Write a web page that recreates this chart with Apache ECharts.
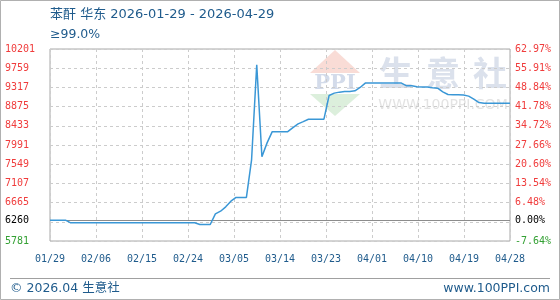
<!DOCTYPE html>
<html>
<head>
<meta charset="utf-8">
<script src="https://cdn.jsdelivr.net/npm/echarts@6/dist/echarts.min.js"></script>
<style>
html,body{margin:0;padding:0;background:#fff;}
#c{width:560px;height:300px;}
</style>
</head>
<body>
<div id="c"></div>
<script>
// ---- data ----
const xLabels = ['01/29','02/06','02/15','02/24','03/05','03/14','03/23','04/01','04/10','04/19','04/28'];
const leftLabels = ['5781','6260','6665','7107','7549','7991','8433','8875','9317','9759','10201'];
const rightLabels = ['-7.64%','0.00%','6.48%','13.54%','20.60%','27.66%','34.72%','41.78%','48.84%','55.91%','62.97%'];
const baseValue = 6260;
const prices = [
  6260,6260,6260,6260,
  6200,6200,6200,6200,6200,6200,6200,6200,6200,6200,6200,6200,6200,6200,6200,6200,6200,6200,6200,6200,6200,6200,6200,6200,6200,
  6160,6160,6160,
  6405,6467,6567,6698,
  6784,6784,6784,
  7650,9840,7720,8040,
  8298,8298,8298,8298,
  8391,8476,8529,
  8585,8585,8585,8585,
  9130,9185,9208,9222,9222,9238,9315,
  9416,9416,9416,9416,9416,9416,9416,9416,
  9354,9354,9330,9324,9324,9307,9300,9215,9153,9146,9146,9140,9116,9047,8968,
  8954,8954,8954,8954,8954,8954
];

const yMin = 5781, yMax = 10201, yStep = 442;
const lastIdx = prices.length - 1;
const xStep = lastIdx / (xLabels.length - 1);

const chart = echarts.init(document.getElementById('c'), null, {renderer: 'canvas'});
const mono = '"DejaVu Sans Mono", monospace';
const sans = '"DejaVu Sans", "Noto Sans CJK SC", sans-serif';
const blueText = '#1f5b8c';

function richKey(i){ return i === 0 ? 'g' : (i === 1 ? 'k' : 'r'); }
const richStyles = {
  g: {color: '#33a033', fontFamily: mono, fontSize: 10},
  k: {color: '#000', fontFamily: mono, fontSize: 10, padding: [0,0,3,0]},
  r: {color: '#f03c3c', fontFamily: mono, fontSize: 10}
};

const wmFont = 'bold 34px "Noto Sans CJK SC", sans-serif';
const wmColor = '#dbe1ec';

const option = {
  backgroundColor: '#fff',
  animation: false,
  grid: {left: 50, right: 50, top: 49, bottom: 59, show: true, borderColor: '#a8a8a8', borderWidth: 1, backgroundColor: 'transparent'},
  xAxis: {
    type: 'value', min: 0, max: lastIdx, interval: xStep,
    axisLine: {show: false}, axisTick: {show: false},
    splitLine: {show: true, lineStyle: {color: '#cccccc', type: [3,3], width: 1}},
    axisLabel: {
      margin: 13, color: blueText, fontFamily: mono, fontSize: 10,
      showMinLabel: true, showMaxLabel: true,
      formatter: v => xLabels[Math.round(v / xStep)] || ''
    }
  },
  yAxis: [{
    type: 'value', min: yMin, max: yMax, interval: yStep, position: 'left',
    axisLine: {show: false}, axisTick: {show: false},
    splitLine: {show: true, lineStyle: {color: '#cccccc', type: [3,3], width: 1}},
    axisLabel: {
      align: 'left', margin: 45, showMinLabel: true, showMaxLabel: true,
      formatter: v => { const i = Math.round((v - yMin) / yStep); return '{' + richKey(i) + '|' + (leftLabels[i] || '') + '}'; },
      rich: richStyles
    }
  }, {
    type: 'value', min: 0, max: rightLabels.length - 1, interval: 1, position: 'right',
    axisLine: {show: false}, axisTick: {show: false}, splitLine: {show: false},
    axisLabel: {
      align: 'left', margin: 5, showMinLabel: true, showMaxLabel: true,
      formatter: v => { const i = Math.round(v); return '{' + richKey(i) + '|' + (rightLabels[i] || '') + '}'; },
      rich: richStyles
    }
  }],
  graphic: [
    {type: 'rect', z: 100, silent: true, shape: {x: 0.5, y: 0.5, width: 559, height: 299}, style: {fill: 'none', stroke: '#b0b0b0', lineWidth: 1}},
    {type: 'text', silent: true, style: {text: '苯酐 华东 2026-01-29 - 2026-04-29', x: 50, y: 15, font: '13px ' + sans, fill: blueText, textVerticalAlign: 'middle'}},
    {type: 'text', silent: true, style: {text: '≥99.0%', x: 50, y: 35, font: '12.5px ' + sans, fill: blueText, textVerticalAlign: 'middle'}},
    {type: 'line', silent: true, shape: {x1: 10, y1: 278.5, x2: 550, y2: 278.5}, style: {stroke: '#a0a0a0', lineWidth: 1}},
    {type: 'text', silent: true, style: {text: '© 2026.04 生意社', x: 10, y: 289, font: '12.5px ' + sans, fill: blueText, textVerticalAlign: 'middle'}},
    {type: 'text', silent: true, style: {text: 'www.100PPI.com', x: 550, y: 289, font: '12.5px ' + sans, fill: blueText, textAlign: 'right', textVerticalAlign: 'middle'}},
    // watermark
    {type: 'polygon', z: -1, silent: true, shape: {points: [[335,50],[310,73],[360,73]]}, style: {fill: '#f9dcd6'}},
    {type: 'text', z: -1, silent: true, style: {text: 'PPI', x: 335, y: 84, font: 'bold 21px "DejaVu Serif", serif', fill: '#d3dbea', textAlign: 'center', textVerticalAlign: 'middle'}},
    {type: 'polygon', z: -1, silent: true, shape: {points: [[310,94],[360,94],[335,116]]}, style: {fill: '#dcefdc'}},
    {type: 'text', z: -1, silent: true, style: {text: '生', x: 396, y: 73, font: wmFont, fill: wmColor, textAlign: 'center', textVerticalAlign: 'middle'}},
    {type: 'text', z: -1, silent: true, style: {text: '意', x: 443, y: 73, font: wmFont, fill: wmColor, textAlign: 'center', textVerticalAlign: 'middle'}},
    {type: 'text', z: -1, silent: true, style: {text: '社', x: 490, y: 73, font: wmFont, fill: wmColor, textAlign: 'center', textVerticalAlign: 'middle'}},
    {type: 'text', z: -1, silent: true, style: {text: 'WWW.100PPI.COM', x: 443, y: 105, font: '14px "DejaVu Sans", sans-serif', fill: '#e3e3e3', textAlign: 'center', textVerticalAlign: 'middle'}}
  ],
  series: [{
    type: 'line',
    data: prices.map((v, i) => [i, v]),
    showSymbol: false, symbol: 'none',
    lineStyle: {color: '#3a97d6', width: 1.5},
    z: 5,
    markLine: {
      silent: true, symbol: 'none', label: {show: false},
      lineStyle: {color: '#8c8c8c', type: 'solid', width: 1.2},
      data: [{yAxis: baseValue}]
    }
  }]
};
chart.setOption(option);
</script>
</body>
</html>
